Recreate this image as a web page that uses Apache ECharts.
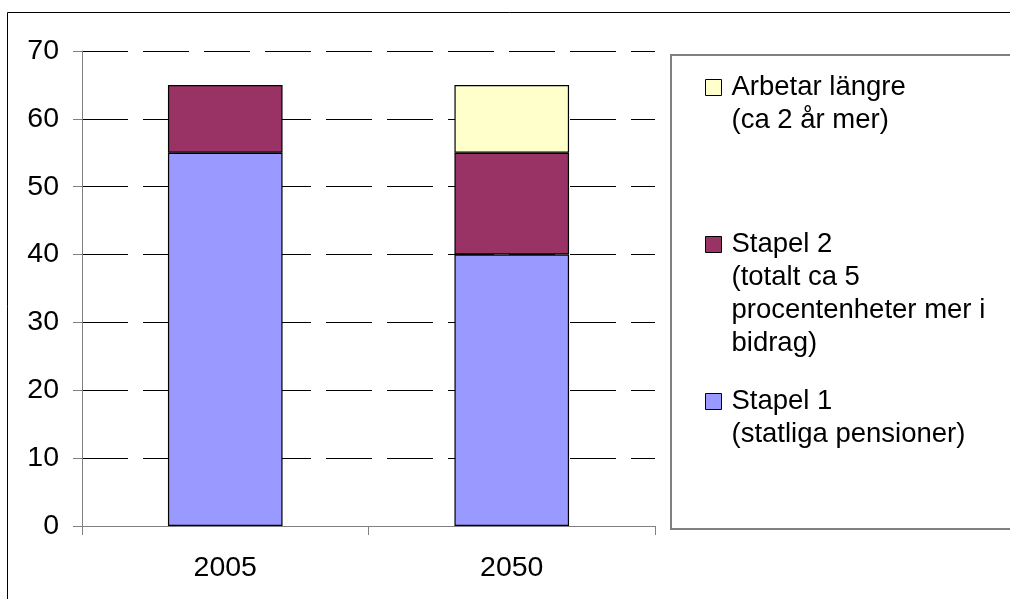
<!DOCTYPE html>
<html>
<head>
<meta charset="utf-8">
<script src="https://cdn.jsdelivr.net/npm/echarts@6/dist/echarts.min.js"></script>
<style>
  html, body { margin: 0; padding: 0; background: #fff; }
  #chart { width: 1010px; height: 599px; }
</style>
</head>
<body>
<div id="chart"></div>
<script>
// Pension financing: share per source, 2005 vs 2050
const categories = ['2005', '2050'];
const stapel1 = [55, 40];          // Stapel 1 (statliga pensioner)
const stapel2 = [10, 15];          // Stapel 2
const arbetarLangre = ['-', 10];   // Arbetar längre (only 2050)

const yMin = 0, yMax = 70, yStep = 10;

const seriesNames = ['Stapel 1', 'Stapel 2', 'Arbetar längre'];
const seriesColors = ['#9999FF', '#993366', '#FFFFCC'];

// legend entries, top to bottom, with their wrapped explanation lines
const legendNames = ['Arbetar längre', 'Stapel 2', 'Stapel 1'];
const legendNotes = [
  ['(ca 2 år mer)'],
  ['(totalt ca 5', 'procentenheter mer i', 'bidrag)'],
  ['(statliga pensioner)']
];
const legendIconCenters = [87.5, 244.5, 401.5];

const FONT = "'Liberation Sans', Arial, sans-serif";
const LH = 33;
const ICON = 16;

function legendBlock(name, notes, centerY) {
  // pad with empty lines above so the middle-aligned block puts the
  // headline level with the colour swatch
  const n = notes.length;
  const text = '\n'.repeat(n) + [name].concat(notes).join('\n');
  const total = 2 * n + 1;
  return {
    data: [name],
    orient: 'vertical',
    left: 705,
    top: centerY - total * LH / 2,
    padding: 0,
    icon: 'rect',
    itemWidth: ICON,
    itemHeight: ICON,
    formatter: function () { return text; },
    textStyle: {
      fontFamily: FONT,
      fontSize: 27.5,
      lineHeight: LH,
      color: '#000',
      padding: [0, 0, 0, 5]
    },
    itemStyle: { borderColor: '#000', borderWidth: 1 }
  };
}

const chart = echarts.init(document.getElementById('chart'), null, { renderer: 'canvas' });

const barSeries = [stapel1, stapel2, arbetarLangre].map(function (vals, i) {
  return {
    name: seriesNames[i],
    type: 'bar',
    stack: 'total',
    barWidth: '40%',
    data: vals,
    itemStyle: { color: seriesColors[i], borderColor: '#000', borderWidth: 1.2 },
    emphasis: { disabled: true }
  };
});

chart.setOption({
  animation: false,
  backgroundColor: '#fff',
  textStyle: { fontFamily: FONT },
  grid: { left: 82, right: 355, top: 51, bottom: 73, containLabel: false },
  legend: legendNames.map(function (nm, i) {
    return legendBlock(nm, legendNotes[i], legendIconCenters[i]);
  }),
  xAxis: {
    type: 'category',
    data: categories,
    axisLine: { show: true, lineStyle: { color: '#808080', width: 1 } },
    axisTick: { show: true, length: 9, alignWithLabel: false, lineStyle: { color: '#808080' } },
    axisLabel: { fontFamily: FONT, fontSize: 28.5, color: '#000', margin: 28 },
    splitLine: { show: false }
  },
  yAxis: {
    type: 'value',
    min: yMin,
    max: yMax,
    interval: yStep,
    axisLine: { show: true, lineStyle: { color: '#808080', width: 1 } },
    axisTick: { show: true, length: 9, lineStyle: { color: '#808080' } },
    axisLabel: { fontFamily: FONT, fontSize: 28.5, color: '#000', margin: 23 },
    splitLine: { show: true, lineStyle: { color: '#000', width: 1, type: [46, 15] } }
  },
  graphic: [
    {
      type: 'rect',
      silent: true,
      z: -1,
      shape: { x: 7.5, y: 12.5, width: 1100, height: 700 },
      style: { fill: null, stroke: '#000', lineWidth: 1 }
    },
    {
      type: 'rect',
      silent: true,
      z: -1,
      shape: { x: 671, y: 55, width: 500, height: 474 },
      style: { fill: null, stroke: '#808080', lineWidth: 2 }
    }
  ],
  series: barSeries
});
</script>
</body>
</html>
